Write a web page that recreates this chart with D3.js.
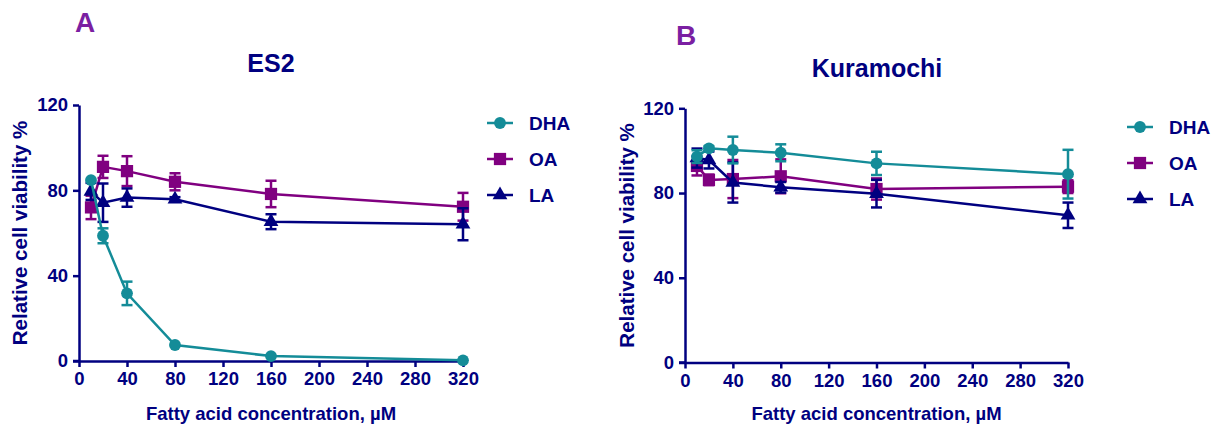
<!DOCTYPE html>
<html>
<head>
<meta charset="utf-8">
<script src="https://cdn.jsdelivr.net/npm/d3@7"></script>
<style>
  body { margin: 0; background: #fff; }
  svg text { font-family: Arial, "Liberation Sans", sans-serif; font-weight: bold; fill: #000080; }
</style>
</head>
<body>
<div id="chart"></div>
<script>
/* global d3 */
// -- Data
const concentrations = [10, 20, 40, 80, 160, 320];
const xTicks = [0, 40, 80, 120, 160, 200, 240, 280, 320];
const yTicks = [0, 40, 80, 120];
const seriesNames = ['DHA', 'OA', 'LA'];

const es2DHA = [84.8, 58.7, 31.7, 7.5, 2.3, 0.3];
const es2DHAErr = [0, 3.5, 5.5, 0, 0, 0];
const es2OA = [72, 91, 89, 84, 78.3, 72.3];
const es2OAErr = [5.5, 5.2, 7, 4, 6.2, 6.5];
const es2LA = [79.5, 74.2, 76.6, 75.8, 65.3, 64.1];
const es2LAErr = [4, 9, 4.3, 1, 3.5, 7.5];

const kuraDHA = [97.2, 101.1, 100.3, 99, 94, 88.9];
const kuraDHAErr = [3, 1, 6.3, 4, 5.5, 11.5];
const kuraOA = [92.8, 86.2, 86.6, 87.9, 81.9, 83];
const kuraOAErr = [4.5, 2.5, 9, 8, 5, 3];
const kuraLA = [96.5, 95.6, 85, 82.7, 79.7, 69.5];
const kuraLAErr = [4.5, 4, 9.5, 2.5, 6.5, 6];

const colors = {DHA: '#148c98', OA: '#800080', LA: '#000080'};
const shapes = {DHA: d3.symbolCircle, OA: d3.symbolSquare, LA: d3.symbolTriangle};
const symSize = {DHA: 110, OA: 150, LA: 95};

const W = 1220, H = 425;
let svg = d3.select('#chart').append('svg')
  .attr('width', W).attr('height', H);

let panels = [
  {letter: 'A', title: 'ES2', x0: 79, x1: 463, y0: 361, y1: 105,
   letterX: 85, letterY: 32, titleY: 72, titleX: 271, yLabelX: 27,
   legendX: 487, legendY: 123,
   data: {DHA: [es2DHA, es2DHAErr], OA: [es2OA, es2OAErr], LA: [es2LA, es2LAErr]}},
  {letter: 'B', title: 'Kuramochi', x0: 685, x1: 1068, y0: 362.5, y1: 108.3,
   letterX: 686, letterY: 45, titleX: 877, titleY: 77, yLabelX: 634,
   legendX: 1127, legendY: 127,
   data: {DHA: [kuraDHA, kuraDHAErr], OA: [kuraOA, kuraOAErr], LA: [kuraLA, kuraLAErr]}}
];

panels.forEach(p => {
  let g = svg.append('g').attr('class', 'panel');
  let x = d3.scaleLinear().domain([0, 320]).range([p.x0, p.x1]);
  let y = d3.scaleLinear().domain([0, 120]).range([p.y0, p.y1]);

  // panel letter and title
  g.append('text').attr('x', p.letterX).attr('y', p.letterY)
    .attr('text-anchor', 'middle').style('font-size', '28px').style('fill', '#7b1fa2')
    .text(p.letter);
  g.append('text').attr('x', p.titleX).attr('y', p.titleY)
    .attr('text-anchor', 'middle').style('font-size', '25px')
    .text(p.title);

  // axes
  let xAxis = d3.axisBottom(x).tickValues(xTicks).tickSize(6).tickPadding(5).tickSizeOuter(0);
  let yAxis = d3.axisLeft(y).tickValues(yTicks).tickSize(6).tickPadding(5).tickSizeOuter(0);
  let xa = g.append('g').attr('transform', `translate(0,${p.y0})`).call(xAxis);
  let ya = g.append('g').attr('transform', `translate(${p.x0},0)`).call(yAxis);
  [xa, ya].forEach(a => {
    a.select('.domain').attr('stroke', '#000080').attr('stroke-width', 2.5);
    a.selectAll('.tick line').attr('stroke', '#000080').attr('stroke-width', 2.5);
    a.selectAll('.tick text').style('font-size', '18.5px').attr('fill', '#000080');
  });
  // x-axis line extends to the y tick at 0
  xa.append('line').attr('x1', p.x0 - 6).attr('x2', p.x0).attr('y1', 0).attr('y2', 0)
    .attr('stroke', '#000080').attr('stroke-width', 2.5);

  g.append('text').attr('x', (p.x0 + p.x1) / 2).attr('y', 420)
    .attr('text-anchor', 'middle').style('font-size', '18.5px')
    .text('Fatty acid concentration, µM');
  g.append('text')
    .attr('transform', `translate(${p.yLabelX},${(p.y0 + p.y1) / 2}) rotate(-90)`)
    .attr('text-anchor', 'middle').style('font-size', '20.5px')
    .text('Relative cell viability %');

  // series
  let line = d3.line().x(d => x(d[0])).y(d => y(d[1]));
  ['OA', 'LA', 'DHA'].forEach(name => {
    let vals = p.data[name][0], errs = p.data[name][1];
    let pts = concentrations.map((c, i) => [c, vals[i], errs[i]]);
    let sg = g.append('g').attr('class', 'series-' + name);
    let col = colors[name];
    sg.append('path').attr('d', line(pts)).attr('fill', 'none')
      .attr('stroke', col).attr('stroke-width', 2.5);
    let eb = sg.selectAll('.err').data(pts.filter(d => d[2] > 0)).enter().append('g');
    eb.append('line').attr('x1', d => x(d[0])).attr('x2', d => x(d[0]))
      .attr('y1', d => y(d[1] - d[2])).attr('y2', d => y(d[1] + d[2]))
      .attr('stroke', col).attr('stroke-width', 2.5);
    [-1, 1].forEach(s => {
      eb.append('line').attr('x1', d => x(d[0]) - 5.5).attr('x2', d => x(d[0]) + 5.5)
        .attr('y1', d => y(d[1] + s * d[2])).attr('y2', d => y(d[1] + s * d[2]))
        .attr('stroke', col).attr('stroke-width', 2.5);
    });
    sg.selectAll('.mk').data(pts).enter().append('path')
      .attr('d', d3.symbol().type(shapes[name]).size(symSize[name]))
      .attr('transform', d => `translate(${x(d[0])},${y(d[1])})`)
      .attr('fill', col);
  });

  // legend
  seriesNames.forEach((name, i) => {
    let ly = p.legendY + i * 36;
    let lg = g.append('g').attr('transform', `translate(${p.legendX},${ly})`);
    lg.append('line').attr('x1', 0).attr('x2', 26).attr('stroke', colors[name]).attr('stroke-width', 2.5);
    lg.append('path').attr('d', d3.symbol().type(shapes[name]).size(symSize[name])())
      .attr('transform', 'translate(13,0)').attr('fill', colors[name]);
    lg.append('text').attr('x', 42).attr('y', 7).style('font-size', '19px').text(name);
  });
});
</script>
</body>
</html>
